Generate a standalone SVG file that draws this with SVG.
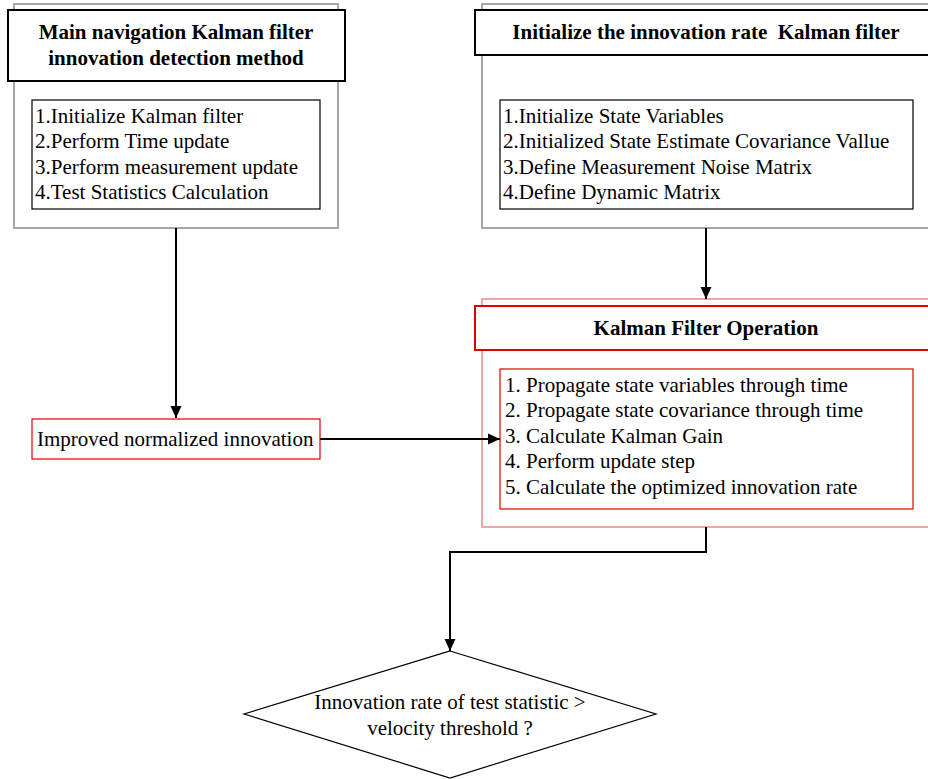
<svg xmlns="http://www.w3.org/2000/svg" width="928" height="779" viewBox="0 0 928 779">
<defs>
<style>
text{font-family:"Liberation Serif","Times New Roman",serif;font-size:21px;fill:#000}
.b{font-weight:bold}
.c{text-anchor:middle}
.gray{fill:#fff;stroke:#a6a6a6;stroke-width:2}
.pink{fill:#fff;stroke:#f4a6a6;stroke-width:2}
.hdr{fill:#fff;stroke:#000;stroke-width:2}
.hdrr{fill:#fff;stroke:#e00000;stroke-width:2}
.inner{fill:#fff;stroke:#000;stroke-width:1.2}
.innerr{fill:#fff;stroke:#e00000;stroke-width:1.2}
.conn{fill:none;stroke:#000;stroke-width:2}
</style>
<marker id="ah" markerWidth="12" markerHeight="12" refX="12" refY="6" orient="auto" markerUnits="userSpaceOnUse">
<path d="M0,0.5 L12,6 L0,11.5 Z" fill="#000"/>
</marker>
</defs>
<rect width="928" height="779" fill="#fff"/>
<g id="main-nav">
<rect class="gray" x="14" y="4" width="324" height="224"/>
<rect class="hdr" x="8" y="10" width="337" height="71"/>
<text class="b c" x="176" y="39">Main navigation Kalman filter</text>
<text class="b c" x="176" y="65">innovation detection method</text>
<rect class="inner" x="32" y="100" width="288" height="109"/>
<text x="35" y="123">1.Initialize Kalman filter</text>
<text x="35" y="148">2.Perform Time update</text>
<text x="35" y="174">3.Perform measurement update</text>
<text x="35" y="199">4.Test Statistics Calculation</text>
</g>
<g id="init-rate">
<rect class="gray" x="482" y="4" width="460" height="224"/>
<rect class="hdr" x="475" y="10" width="460" height="45"/>
<text class="b c" x="706" y="39" xml:space="preserve">Initialize the innovation rate  Kalman filter</text>
<rect class="inner" x="500" y="100" width="413" height="109"/>
<text x="503" y="123">1.Initialize State Variables</text>
<text x="503" y="148">2.Initialized State Estimate Covariance Vallue</text>
<text x="503" y="174">3.Define Measurement Noise Matrix</text>
<text x="503" y="199">4.Define Dynamic Matrix</text>
</g>
<g id="kf-op">
<rect class="pink" x="482" y="299" width="460" height="228"/>
<rect class="hdrr" x="475" y="306" width="460" height="44"/>
<text class="b c" x="706" y="335">Kalman Filter Operation</text>
<rect class="innerr" x="500" y="369" width="413" height="140"/>
<text x="505" y="392">1. Propagate state variables through time</text>
<text x="505" y="417">2. Propagate state covariance through time</text>
<text x="505" y="443">3. Calculate Kalman Gain</text>
<text x="505" y="468">4. Perform update step</text>
<text x="505" y="494">5. Calculate the optimized innovation rate</text>
</g>
<g id="improved">
<rect class="innerr" x="32" y="419" width="288" height="40"/>
<text x="37" y="446">Improved normalized innovation</text>
</g>
<g id="decision">
<polygon points="450,651 656,714 450,778 244,714" fill="#fff" stroke="#000" stroke-width="1.2"/>
<text class="c" x="450" y="709">Innovation rate of test statistic &gt;</text>
<text class="c" x="450" y="735">velocity threshold ?</text>
</g>
<g id="connectors">
<path class="conn" d="M176,228 V418" marker-end="url(#ah)"/>
<path class="conn" d="M706,228 V299" marker-end="url(#ah)"/>
<path class="conn" d="M320,439 H500" marker-end="url(#ah)"/>
<path class="conn" d="M706,527 V552 H450 V651" marker-end="url(#ah)"/>
</g>
</svg>
